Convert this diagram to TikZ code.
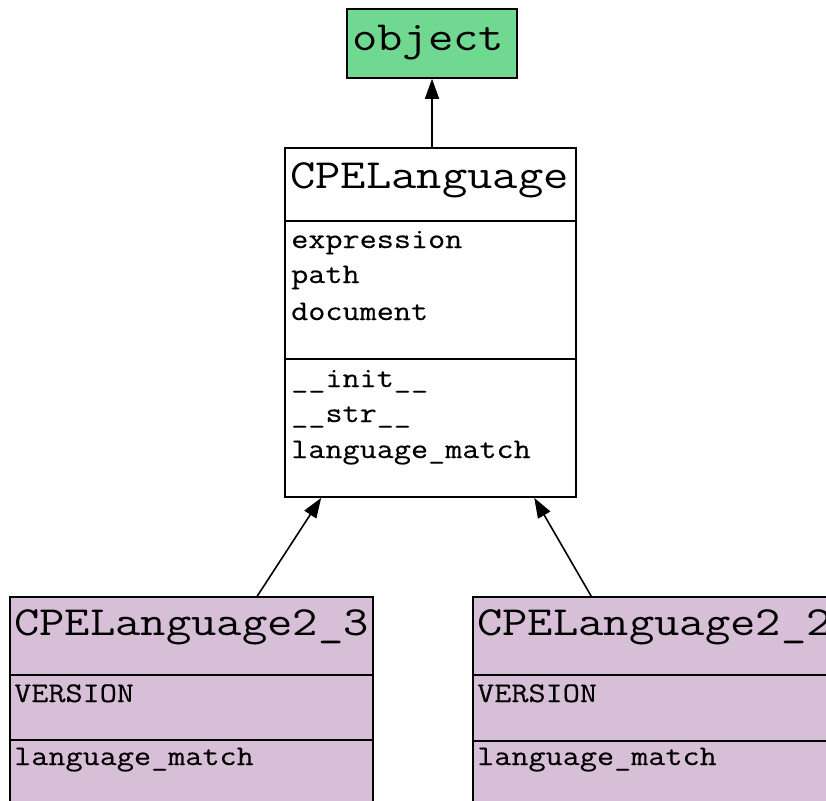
\documentclass[tikz,border=0pt]{standalone}
\usepackage{fontspec}
\newfontfamily\courtitle[FakeStretch=1.185]{Latin Modern Mono}
\newfontfamily\courmember[FakeStretch=1.166,FakeBold=0.3]{Latin Modern Mono}
\usetikzlibrary{arrows.meta,calc}
\definecolor{objgreen}{RGB}{112,216,144}
\definecolor{subpurple}{RGB}{216,191,216}
\tikzset{
  classbox/.style={draw=black, line width=1.6pt, inner sep=0pt, rectangle},
  titletext/.style={anchor=base west, inner sep=0pt, font=\courtitle\fontsize{41.5}{41.5}\selectfont},
  membertext/.style={anchor=base west, inner sep=0pt, font=\courmember\fontsize{28.5}{28.5}\selectfont},
  sepline/.style={line width=1.6pt},
  inherit/.style={line width=1.6pt, -{Triangle[length=20pt,width=14pt]}}
}
\begin{document}
\begin{tikzpicture}[x=1pt,y=-1pt]
\useasboundingbox (0,0) rectangle (826,800);
\clip (0,0) rectangle (826,800);
\fill[white] (0,0) rectangle (826,800);
% object
\node[classbox, fill=objgreen, minimum width=170pt, minimum height=69pt] (obj) at (432,43.5) {};
\node[titletext] (objt) at (352,51) {object};
% CPELanguage
\node[classbox, fill=white, minimum width=291pt, minimum height=349pt] (cpe) at (430.5,322.5) {};
\draw[sepline] (285,221) -- (576,221);
\draw[sepline] (285,359) -- (576,359);
\node[titletext] (cpet) at (290,188) {CPELanguage};
\node[membertext] (a1) at (291,248) {expression};
\node[membertext] (a2) at (291,283) {path};
\node[membertext] (a3) at (291,320) {document};
\node[membertext] (m1) at (291,387) {\_\_init\_\_};
\node[membertext] (m2) at (291,422) {\_\_str\_\_};
\node[membertext] (m3) at (291,458) {language\_match};
% CPELanguage2_3
\node[classbox, fill=subpurple, minimum width=363pt, minimum height=260pt] (c23) at (191.5,727) {};
\draw[sepline] (10,675) -- (373,675);
\draw[sepline] (10,740) -- (373,740);
\node[titletext] (c23t) at (14,635) {CPELanguage2\_3};
\node[membertext] (c23a) at (14,702) {VERSION};
\node[membertext] (c23m) at (14,765) {language\_match};
% CPELanguage2_2
\node[classbox, fill=subpurple, minimum width=363pt, minimum height=260pt] (c22) at (654.5,727) {};
\draw[sepline] (473,675) -- (836,675);
\draw[sepline] (473,741) -- (836,741);
\node[titletext] (c22t) at (477,635) {CPELanguage2\_2};
\node[membertext] (c22a) at (477,702) {VERSION};
\node[membertext] (c22m) at (477,765) {language\_match};
% inheritance arrows
\draw[inherit] (cpe.north -| obj.south) -- (obj.south);
\draw[inherit] ($(c23.north west)+(248,0)$) -- ($(cpe.south west)+(37,0)$);
\draw[inherit] ($(c22.north west)+(119,0)$) -- ($(cpe.south west)+(250,0)$);
\end{tikzpicture}
\end{document}
